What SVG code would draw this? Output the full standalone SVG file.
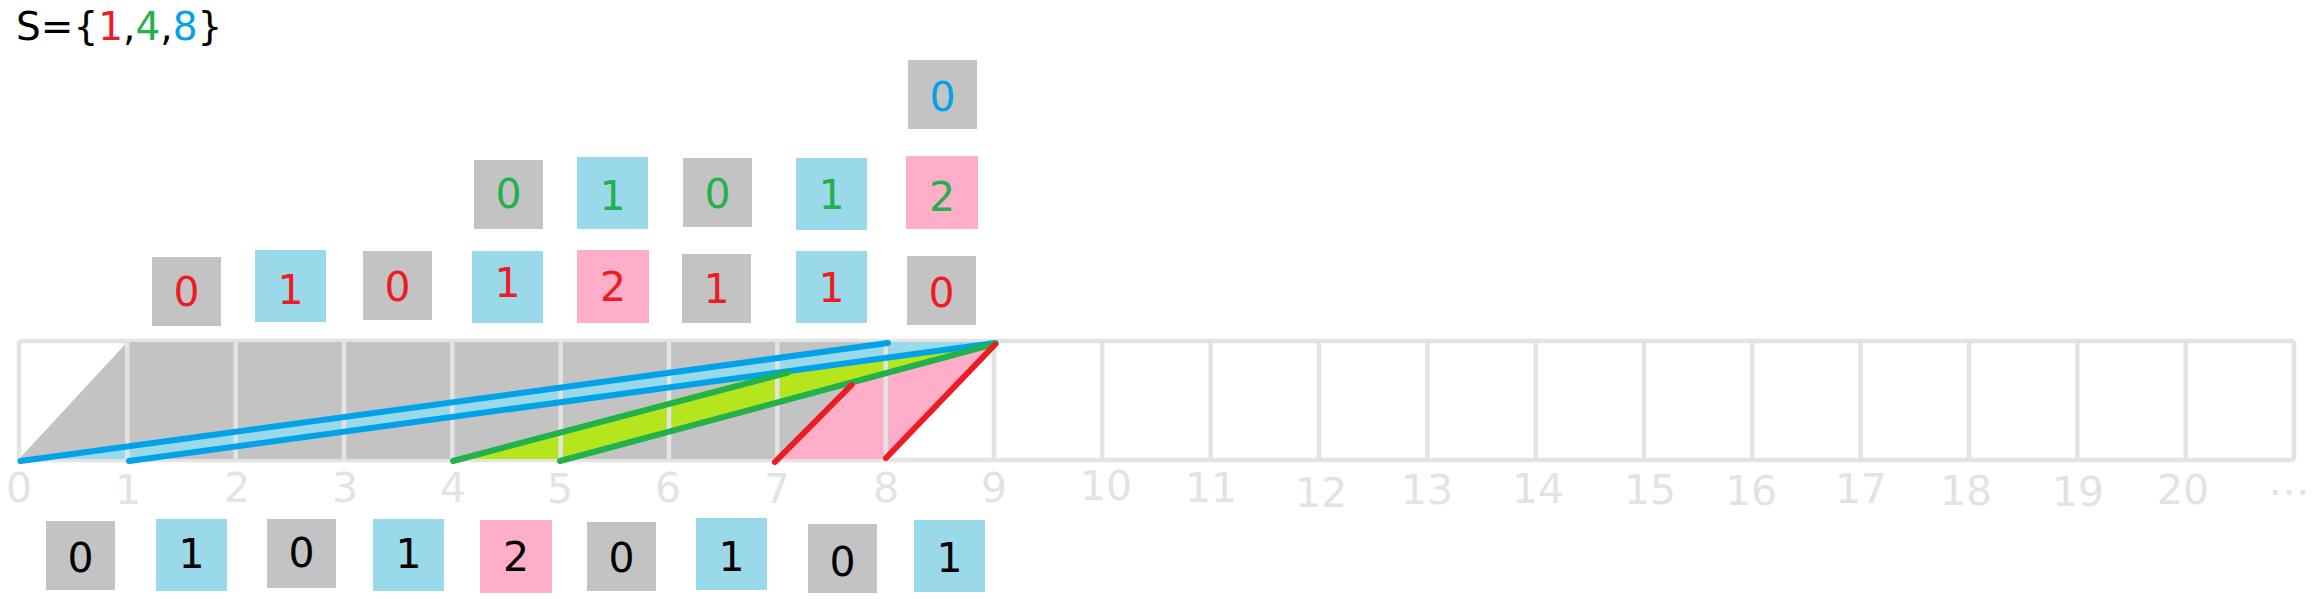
<svg xmlns="http://www.w3.org/2000/svg" width="2323" height="599" viewBox="0 0 2323 599">
<style>
.g{fill:#c3c3c3}.b{fill:#99d9ea}.p{fill:#ffaec9}
.d{font-family:"DejaVu Sans","Liberation Sans",sans-serif;font-size:41px;text-anchor:middle}
.r{fill:#ed1c24}.gr{fill:#22b14c}.bl{fill:#00a2e8}.k{fill:#000}
.ax{font-family:"DejaVu Sans","Liberation Sans",sans-serif;font-size:41px;text-anchor:middle;fill:#e3e3e3}
.grid{stroke:#e3e3e3;stroke-width:4.5;fill:none}
.ln{stroke-width:6;stroke-linecap:round;fill:none}
</style>
<rect width="2323" height="599" fill="#fff"/>
<text x="16" y="40" font-family="DejaVu Sans, Liberation Sans, sans-serif" font-size="39">S={<tspan fill="#ed1c24">1</tspan>,<tspan fill="#22b14c">4</tspan>,<tspan fill="#00a2e8">8</tspan>}</text>

<g id="grid-h">
<path class="grid" d="M19 341H2294M19 460H2294"/>
</g>
<g id="fills">
<polygon fill="#c3c3c3" points="19,459 127.3,342 994,342 885.7,459"/>
<polygon fill="#ffaec9" points="777.3,459 851.5,381 994,342 885.7,459"/>
<polygon fill="#b5e61d" points="452.3,459 778,371 994,342 560.7,459"/>
<polygon fill="#99d9ea" points="19,459 885.7,342 994,342 127.3,459"/>
</g>
<g id="grid-v">
<path class="grid" d="M19 341V460M127.3 341V460M235.7 341V460M344 341V460M452.3 341V460M560.7 341V460M669 341V460M777.3 341V460M885.7 341V460M994 341V460M1102.3 341V460M1210.7 341V460M1319 341V460M1427.3 341V460M1535.7 341V460M1644 341V460M1752.3 341V460M1860.7 341V460M1969 341V460M2077.3 341V460M2185.7 341V460M2294 341V460"/>
</g>
<g id="axis-labels">
<text class="ax" x="19" y="502">0</text>
<text class="ax" x="128" y="504">1</text>
<text class="ax" x="237" y="502">2</text>
<text class="ax" x="345" y="502">3</text>
<text class="ax" x="453" y="502">4</text>
<text class="ax" x="560" y="503">5</text>
<text class="ax" x="668" y="502">6</text>
<text class="ax" x="777" y="503">7</text>
<text class="ax" x="886" y="502">8</text>
<text class="ax" x="994" y="502">9</text>
<text class="ax" x="1106" y="500">10</text>
<text class="ax" x="1211" y="502">11</text>
<text class="ax" x="1321" y="507">12</text>
<text class="ax" x="1427" y="504">13</text>
<text class="ax" x="1538" y="503">14</text>
<text class="ax" x="1650" y="504">15</text>
<text class="ax" x="1751" y="505">16</text>
<text class="ax" x="1861" y="503">17</text>
<text class="ax" x="1966" y="505">18</text>
<text class="ax" x="2078" y="506">19</text>
<text class="ax" x="2183" y="504">20</text>
<text class="ax" x="2289" y="495">…</text>
</g>
<g id="connectors">
<line class="ln" stroke="#00a2e8" x1="20.5" y1="461" x2="888" y2="343"/>
<line class="ln" stroke="#00a2e8" x1="129" y1="461" x2="995" y2="343"/>
<line class="ln" stroke="#22b14c" x1="453" y1="461" x2="788" y2="372.5"/>
<line class="ln" stroke="#22b14c" x1="560" y1="461" x2="996" y2="343.5"/>
<line class="ln" stroke="#ed1c24" x1="775" y1="462" x2="851.5" y2="385"/>
<line class="ln" stroke="#ed1c24" x1="886" y1="458" x2="995" y2="344.5"/>
</g>

<g id="row1">
<g id="r1-1"><rect class="g" x="152" y="257" width="69" height="69"/><text class="d r" x="186.5" y="306">0</text></g>
<g id="r1-2"><rect class="b" x="255" y="250" width="71" height="72"/><text class="d r" x="290.5" y="304">1</text></g>
<g id="r1-3"><rect class="g" x="363" y="251" width="69" height="69"/><text class="d r" x="397.5" y="301">0</text></g>
<g id="r1-4"><rect class="b" x="472" y="251" width="71" height="72"/><text class="d r" x="507.5" y="297">1</text></g>
<g id="r1-5"><rect class="p" x="577" y="250" width="72" height="73"/><text class="d r" x="613" y="301">2</text></g>
<g id="r1-6"><rect class="g" x="682" y="254" width="69" height="69"/><text class="d r" x="716.5" y="303">1</text></g>
<g id="r1-7"><rect class="b" x="796" y="251" width="71" height="72"/><text class="d r" x="831.5" y="302">1</text></g>
<g id="r1-8"><rect class="g" x="907" y="256" width="69" height="69"/><text class="d r" x="941.5" y="307">0</text></g>
</g>
<g id="row2">
<g id="r2-1"><rect class="g" x="474" y="160" width="69" height="69"/><text class="d gr" x="508.5" y="208">0</text></g>
<g id="r2-2"><rect class="b" x="577" y="157" width="71" height="72"/><text class="d gr" x="612.5" y="210">1</text></g>
<g id="r2-3"><rect class="g" x="683" y="158" width="69" height="69"/><text class="d gr" x="717.5" y="208">0</text></g>
<g id="r2-4"><rect class="b" x="796" y="158" width="71" height="72"/><text class="d gr" x="831.5" y="209">1</text></g>
<g id="r2-5"><rect class="p" x="906" y="156" width="72" height="73"/><text class="d gr" x="942" y="211">2</text></g>
</g>
<g id="row3">
<g id="r3-1"><rect class="g" x="908" y="60" width="69" height="69"/><text class="d bl" x="942.5" y="111">0</text></g>
</g>
<g id="row0">
<g id="r0-1"><rect class="g" x="46" y="521" width="69" height="69"/><text class="d k" x="80.5" y="572">0</text></g>
<g id="r0-2"><rect class="b" x="156" y="519" width="71" height="72"/><text class="d k" x="191.5" y="568">1</text></g>
<g id="r0-3"><rect class="g" x="267" y="519" width="69" height="69"/><text class="d k" x="301.5" y="567">0</text></g>
<g id="r0-4"><rect class="b" x="373" y="519" width="71" height="72"/><text class="d k" x="408.5" y="568">1</text></g>
<g id="r0-5"><rect class="p" x="480" y="520" width="72" height="73"/><text class="d k" x="516" y="571">2</text></g>
<g id="r0-6"><rect class="g" x="587" y="522" width="69" height="69"/><text class="d k" x="621.5" y="572">0</text></g>
<g id="r0-7"><rect class="b" x="696" y="518" width="71" height="72"/><text class="d k" x="731.5" y="571">1</text></g>
<g id="r0-8"><rect class="g" x="808" y="524" width="69" height="69"/><text class="d k" x="842.5" y="576">0</text></g>
<g id="r0-9"><rect class="b" x="914" y="520" width="71" height="72"/><text class="d k" x="949.5" y="572">1</text></g>
</g>
</svg>
